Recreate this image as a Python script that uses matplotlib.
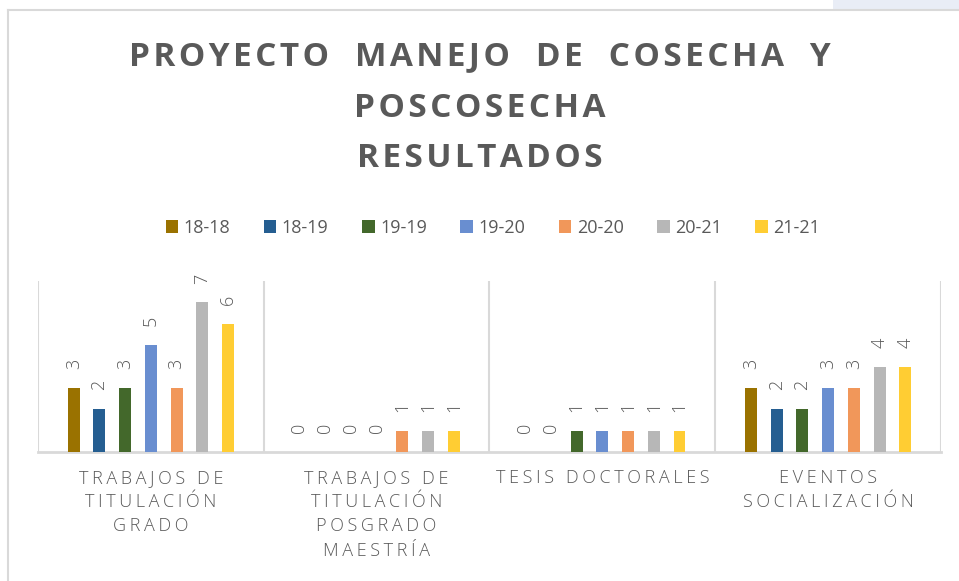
import matplotlib
matplotlib.use('Agg')
import matplotlib.pyplot as plt
import numpy as np
from matplotlib.patches import Rectangle
from matplotlib.lines import Line2D

# datos del grafico
categorias = ["TRABAJOS DE\nTITULACIÓN\nGRADO",
              "TRABAJOS DE\nTITULACIÓN\nPOSGRADO\nMAESTRÍA",
              "TESIS DOCTORALES",
              "EVENTOS\nSOCIALIZACIÓN"]
periodos = ["18-18", "18-19", "19-19", "19-20", "20-20", "20-21", "21-21"]
v_18_18 = [3, 0, 0, 3]
v_18_19 = [2, 0, 0, 2]
v_19_19 = [3, 0, 1, 2]
v_19_20 = [5, 0, 1, 3]
v_20_20 = [3, 1, 1, 3]
v_20_21 = [7, 1, 1, 4]
v_21_21 = [6, 1, 1, 4]
series = [v_18_18, v_18_19, v_19_19, v_19_20, v_20_20, v_20_21, v_21_21]
colores = ['#9A7200', '#255E91', '#43682B', '#698ED0', '#F1975A', '#B7B7B7', '#FFCD33']
titulo = ["PROYECTO MANEJO DE COSECHA Y", "POSCOSECHA", "RESULTADOS"]

gris = '#595959'
linea = '#D9D9D9'
W, H = 959, 581
fuente = ['Open Sans', 'DejaVu Sans']


def espaciado(s, sep='\u2009', sep_pal=None):
    # simula el espaciado entre letras de Excel
    lineas = []
    for l in s.split('\n'):
        if sep_pal is None:
            lineas.append(sep.join(list(l)))
        else:
            lineas.append(sep_pal.join(sep.join(list(p)) for p in l.split(' ')))
    return '\n'.join(lineas)


fig = plt.figure(figsize=(W / 100, H / 100), dpi=100)

# marco del grafico
fig.add_artist(Rectangle((833 / W, 1 - 9 / H), 1, 9 / H, transform=fig.transFigure,
                         color='#E9EDF6', lw=0))
fig.add_artist(Line2D([8 / W, 1], [1 - 9.5 / H, 1 - 9.5 / H], transform=fig.transFigure,
                      color=linea, lw=1.5))
fig.add_artist(Line2D([8 / W, 8 / W], [0, 1 - 9.5 / H], transform=fig.transFigure,
                      color=linea, lw=1.5))

# titulo
for txt, y in zip(titulo, [57, 108, 158]):
    fig.text(0.5, 1 - y / H, espaciado(txt, '\u200a', '   '), ha='center', va='center',
             fontsize=24, fontweight='bold', color=gris, family=fuente)

x0, x1, yb, yt = 38, 941, 452, 281
ax = fig.add_axes([x0 / W, (H - yb) / H, (x1 - x0) / W, (yb - yt) / H])

x = np.arange(len(categorias))
paso = 0.1139
ancho = 0.053
for j, (vals, c) in enumerate(zip(series, colores)):
    pos = x + (j - 3) * paso
    ax.bar(pos, vals, width=ancho, color=c, label=periodos[j], zorder=3)
    for px, v in zip(pos, vals):
        ax.annotate(str(v), (px, v), xytext=(0, 13.5), textcoords='offset points',
                    ha='center', va='bottom', rotation=90, fontsize=13,
                    color=gris, family=fuente, fontweight='light')

ax.set_xlim(-0.5, 3.5)
ax.set_ylim(0, 8)
ax.set_yticks([])
for s in ['top', 'right', 'left']:
    ax.spines[s].set_visible(False)
ax.spines['bottom'].set_color(linea)
ax.spines['bottom'].set_linewidth(2)
for b in np.arange(-0.5, 4, 1):
    ax.axvline(b, color=linea, lw=1.5, zorder=1)

ax.set_xticks(x)
ax.set_xticklabels([espaciado(c) for c in categorias], fontsize=13, color=gris,
                   family=fuente, fontweight='light', linespacing=1.45, va='top')
ax.tick_params(axis='x', length=0, pad=12)

fig.legend(loc='center', bbox_to_anchor=(493 / W, 1 - 228 / H), ncol=7, frameon=False,
           handlelength=0.7, handleheight=0.7, handletextpad=0.3, columnspacing=1.85,
           prop={'family': fuente, 'size': 13}, labelcolor=gris)

fig.savefig('out.png', dpi=100)
